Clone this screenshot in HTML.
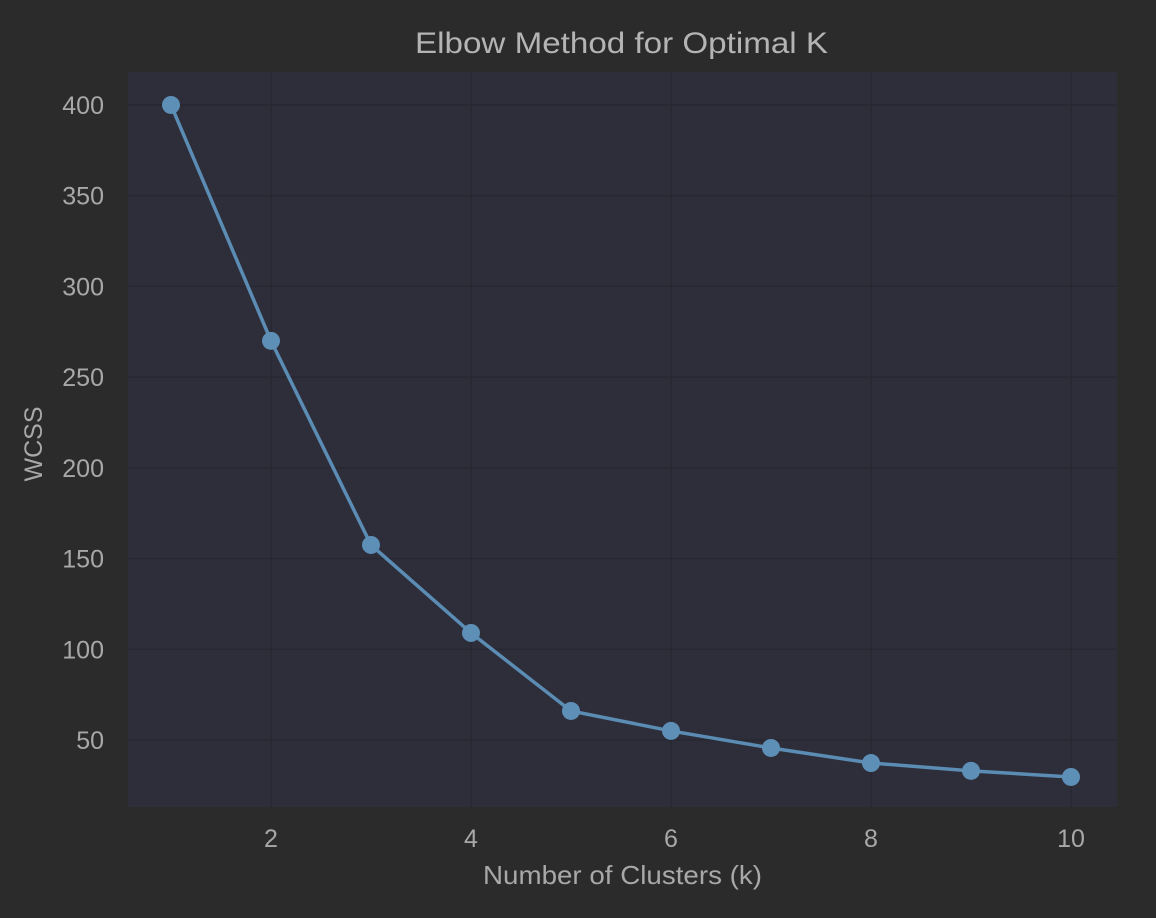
<!DOCTYPE html>
<html><head><meta charset="utf-8"><style>
html,body{margin:0;padding:0;background:#2b2b2b;}
svg{display:block;font-family:"Liberation Sans",sans-serif;}
</style></head><body>
<svg id="chart" width="1156" height="918">
<rect width="1156" height="918" fill="#2b2b2b"/>
<rect x="128" y="72" width="989" height="735" fill="#2e2e3b"/>
<text x="415" y="53" fill="#b4b4b4" font-size="30" textLength="413" lengthAdjust="spacingAndGlyphs">Elbow Method for Optimal K</text>
<text x="483" y="884" fill="#a8a8a8" font-size="26" textLength="279" lengthAdjust="spacingAndGlyphs">Number of Clusters (k)</text>
<text transform="translate(42,444) rotate(-90)" fill="#a8a8a8" font-size="25" text-anchor="middle">WCSS</text>
<g id="grid"></g><g id="ticks"></g><g id="series"></g>
</svg>
<script>
const ks=[1,2,3,4,5,6,7,8,9,10];
const wcss=[400,270,157.5,109,66,55,45.6,37.3,33,29.6];
const xTicks=[2,4,6,8,10];
const yTicks=[50,100,150,200,250,300,350,400];
const NS="http://www.w3.org/2000/svg";
const X=v=>171+(v-1)*100;
const Y=v=>830.7-v*1.8143;
function mk(tag,attrs,parent){const e=document.createElementNS(NS,tag);for(const k in attrs)e.setAttribute(k,attrs[k]);document.getElementById(parent).appendChild(e);return e;}
xTicks.forEach(t=>{
 const g=mk('line',{x1:X(t),x2:X(t),y1:72,y2:807,stroke:'#272731','stroke-width':1.2},'grid');
 
 
 const l=mk('text',{x:X(t),y:847,fill:'#a8a8a8','font-size':25,'text-anchor':'middle'},'ticks');
 l.textContent=t;
 
 
});
yTicks.forEach(t=>{
 const g=mk('line',{x1:128,x2:1117,y1:Y(t),y2:Y(t),stroke:'#272731','stroke-width':1.2},'grid');
 
 
 const l=mk('text',{x:104,y:Y(t)+9,fill:'#a8a8a8','font-size':25,'text-anchor':'end'},'ticks');
 l.textContent=t;
 
 
});
const line=mk('polyline',{points:ks.map((k,i)=>X(k)+','+Y(wcss[i])).join(' '),fill:'none',stroke:'#5b8cb3','stroke-width':3.5},'series');


ks.forEach((k,i)=>{
 const c=mk('circle',{cx:X(k),cy:Y(wcss[i]),r:9,fill:'#5e8fb6'},'series');
 
 
});
</script>
</body></html>
